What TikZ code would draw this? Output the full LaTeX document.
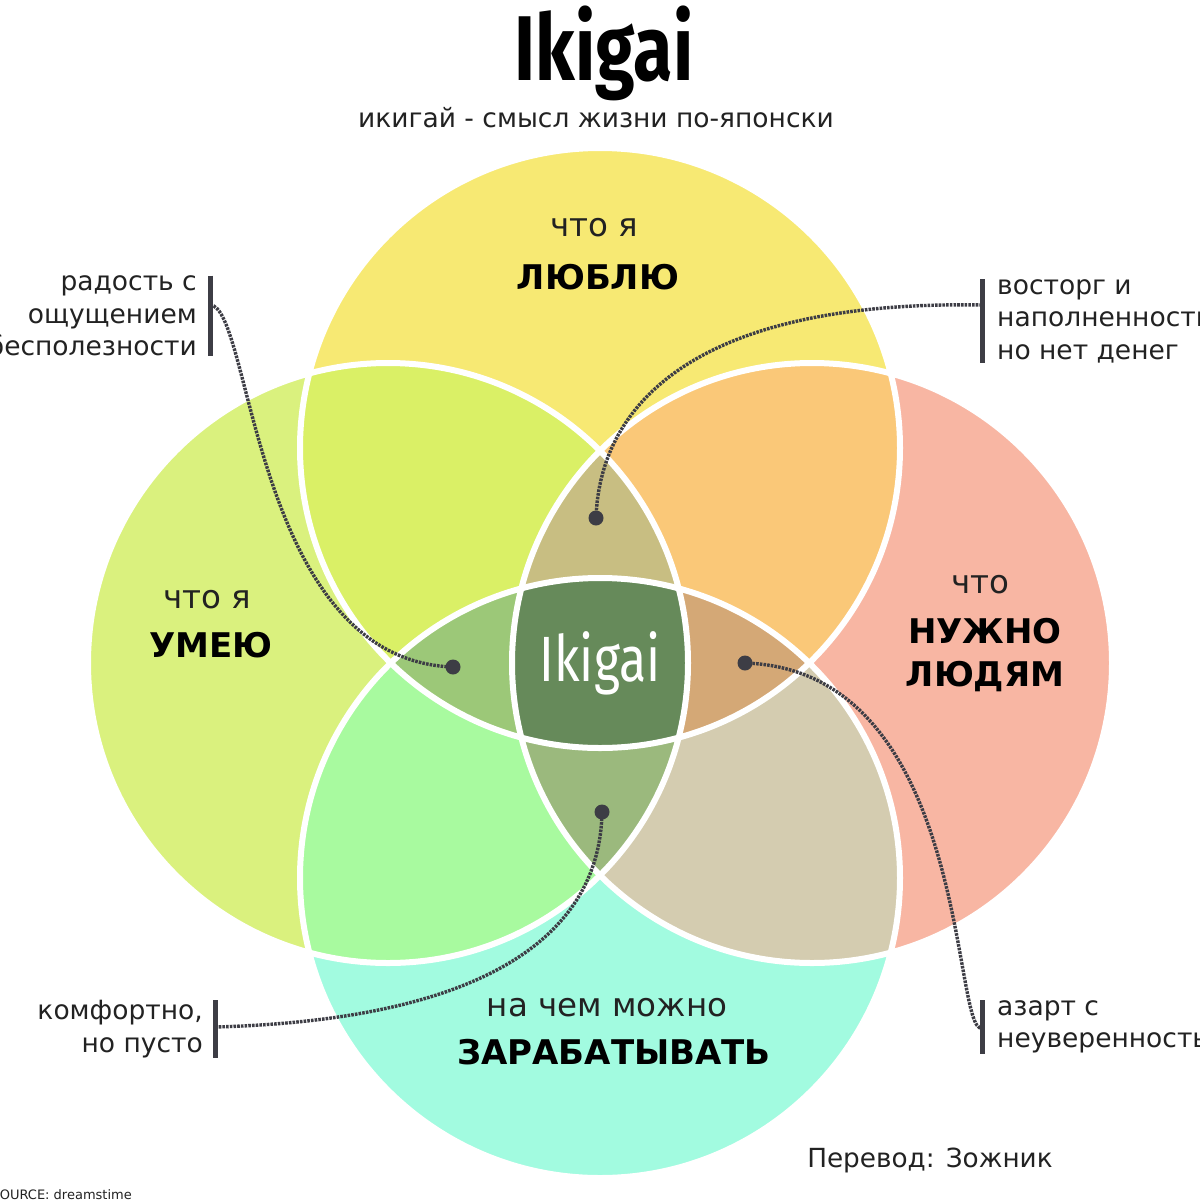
\documentclass[tikz,border=0pt]{standalone}
\usepackage{fontspec}
\setmainfont{DejaVu Sans}
\newfontfamily\titlefont[FakeStretch=0.78]{Fira Sans}
\usetikzlibrary{calc,positioning}

\definecolor{colT}{HTML}{F7E973}
\definecolor{colL}{HTML}{DAF17E}
\definecolor{colR}{HTML}{F8B6A3}
\definecolor{colB}{HTML}{A2FBE0}
\definecolor{colTL}{HTML}{DAF066}
\definecolor{colTR}{HTML}{FAC878}
\definecolor{colLB}{HTML}{A8FA9F}
\definecolor{colRB}{HTML}{D4CCB0}
\definecolor{colTLR}{HTML}{C8BE82}
\definecolor{colTLB}{HTML}{9CC878}
\definecolor{colTRB}{HTML}{D4A876}
\definecolor{colLRB}{HTML}{9BB97D}
\definecolor{colTLRB}{HTML}{668A5A}
\definecolor{leadgray}{HTML}{3D3D45}
\definecolor{txtgray}{HTML}{222222}

\begin{document}
\begin{tikzpicture}[x=1pt,y=-1pt,
    ring/.style={draw=white, line width=6pt},
    leader/.style={draw=leadgray, line width=3.4pt, dash pattern=on 2.6pt off 1.1pt},
    enddot/.style={circle, fill=leadgray, inner sep=0pt, minimum size=15pt},
    notebar/.style={draw=leadgray, line width=5pt},
    note/.style={font=\fontsize{26.5}{32.5}\selectfont, text=txtgray, inner sep=0pt},
    head/.style={font=\fontsize{32.5}{40}\selectfont, text=txtgray, inner sep=0pt},
    headbold/.style={font=\bfseries\fontsize{34}{43}\selectfont, text=black, align=center, inner sep=0pt}
  ]
  \useasboundingbox[fill=white] (0,0) rectangle (1200,1200);

  \def\R{300pt}
  \coordinate (cT) at (600,448);
  \coordinate (cL) at (388,663);
  \coordinate (cR) at (812,663);
  \coordinate (cB) at (600,878);

  % circles and their overlaps
  \foreach \a in {T,L,R,B}
    \fill[fill=col\a] (c\a) circle[radius=\R];

  \foreach \a/\b in {T/L,T/R,L/B,R/B}
  {
    \begin{scope}
      \clip (c\a) circle[radius=\R];
      \fill[fill=col\a\b] (c\b) circle[radius=\R];
    \end{scope}
  }

  \foreach \a/\b/\c in {T/L/R,T/L/B,T/R/B,L/R/B}
  {
    \begin{scope}
      \clip (c\a) circle[radius=\R];
      \clip (c\b) circle[radius=\R];
      \fill[fill=col\a\b\c] (c\c) circle[radius=\R];
    \end{scope}
  }

  \begin{scope}
    \clip (cT) circle[radius=\R];
    \clip (cL) circle[radius=\R];
    \clip (cR) circle[radius=\R];
    \fill[fill=colTLRB] (cB) circle[radius=\R];
  \end{scope}

  \foreach \a in {T,L,R,B}
    \draw[ring] (c\a) circle[radius=\R];

  % titles
  \node[font=\titlefont\bfseries\fontsize{92}{92}\selectfont, text=black, inner sep=0pt] (title) at (604,53) {Ikigai};
  \node[note] (subtitle) at (596,118) {икигай - смысл жизни по-японски};

  % circle labels
  \node[head] (loveA) at (594,228) {что я};
  \node[headbold] (loveB) at (598,277) {ЛЮБЛЮ};
  \node[head] (skillA) at (207,600) {что я};
  \node[headbold] (skillB) at (211,645) {УМЕЮ};
  \node[head] (needA) at (980,585) {что};
  \node[headbold] (needB) at (985,655) {НУЖНО\\ЛЮДЯМ};
  \node[head] (payA) at (607,1008) {на чем можно};
  \node[headbold] (payB) at (614,1052) {ЗАРАБАТЫВАТЬ};

  \node[font=\titlefont\fontsize{64}{64}\selectfont, text=white, inner sep=0pt] (core) at (600,663) {Ikigai};

  % side notes
  \node[note, align=right, anchor=east] (noteJoy) at (197,316) {радость с\\ощущением\\бесполезности};
  \node[note, align=left, anchor=west] (noteDelight) at (997,321) {восторг и\\наполненность,\\но нет денег};
  \node[note, align=right, anchor=east] (noteComfort) at (203,1029) {комфортно,\\но пусто};
  \node[note, align=left, anchor=west] (noteThrill) at (997,1027) {азарт с\\неуверенностью};

  \draw[notebar] ([xshift=13pt]noteJoy.north east) -- ([xshift=13pt]noteJoy.south east);
  \draw[notebar] ([xshift=-15pt]noteDelight.north west) -- ([xshift=-15pt]noteDelight.south west);
  \draw[notebar] ([xshift=12pt]noteComfort.north east) -- ([xshift=12pt]noteComfort.south east);
  \draw[notebar] ([xshift=-15pt]noteThrill.north west) -- ([xshift=-15pt]noteThrill.south west);

  \coordinate (joyEnd) at ($(noteJoy.east)+(13,-11)$);
  \coordinate (delightEnd) at ($(noteDelight.west)+(-15,-16)$);
  \coordinate (comfortEnd) at ($(noteComfort.east)+(12,-2)$);
  \coordinate (thrillEnd) at ($(noteThrill.west)+(-15,1)$);

  \node[enddot] (dotJoy) at (453,667) {};
  \node[enddot] (dotDelight) at (596,518) {};
  \node[enddot] (dotComfort) at (602,812) {};
  \node[enddot] (dotThrill) at (745,663) {};

  \draw[leader] (joyEnd) .. controls ($(joyEnd)+(42,0)$) and ($(dotJoy)+(-200,-7)$) .. (dotJoy.center);
  \draw[leader] (delightEnd) .. controls ($(delightEnd)+(-280,-5)$) and ($(dotDelight)+(4,-118)$) .. (dotDelight.center);
  \draw[leader] (comfortEnd) .. controls ($(comfortEnd)+(262,-7)$) and ($(dotComfort)+(-2,128)$) .. (dotComfort.center);
  \draw[leader] (dotThrill.center) .. controls ($(dotThrill)+(225,7)$) and ($(thrillEnd)+(-30,7)$) .. (thrillEnd);

  \node[font=\fontsize{26.3}{30}\selectfont, text=txtgray, inner sep=0pt] (credit) at (930,1160) {Перевод: Зожник};
  \node[font=\fontsize{13}{15}\selectfont, text=txtgray, inner sep=0pt, anchor=base east] (source) at (132,1199) {SOURCE: dreamstime};
\end{tikzpicture}
\end{document}
